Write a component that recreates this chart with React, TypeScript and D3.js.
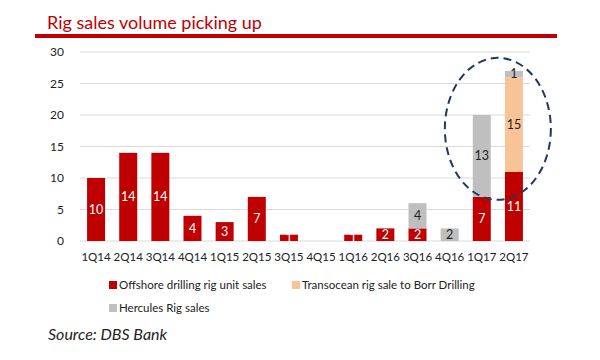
import React, { useEffect, useRef } from "react";
import * as d3 from "d3";

const quarters = ["1Q14", "2Q14", "3Q14", "4Q14", "1Q15", "2Q15", "3Q15", "4Q15", "1Q16", "2Q16", "3Q16", "4Q16", "1Q17", "2Q17"];
const offshore = [10, 14, 14, 4, 3, 7, 1, 0, 1, 2, 2, 0, 7, 11];
const transocean = [0, 0, 0, 0, 0, 0, 0, 0, 0, 0, 0, 0, 0, 15];
const hercules = [0, 0, 0, 0, 0, 0, 0, 0, 0, 0, 4, 2, 13, 1];
const yTicks = [0, 5, 10, 15, 20, 25, 30];

const seriesNames = ["Offshore drilling rig unit sales", "Transocean rig sale to Borr Drilling", "Hercules Rig sales"];
const colors = ["#c00000", "#f8c497", "#bfbfbf"];
const labelColors = ["#ffffff", "#222222", "#222222"];

const font = "Lato, 'Open Sans', sans-serif";

export default function App() {
  const ref = useRef<SVGSVGElement>(null);

  useEffect(() => {
    const width = 600;
    const height = 360;
    const margin = { top: 52, left: 80, bottom: 119, right: 70 };
    const iwidth = width - margin.left - margin.right;
    const iheight = height - margin.top - margin.bottom;

    const svg = d3.select(ref.current);
    svg.selectAll("*").remove();

    // title + rule
    svg.append("text")
      .attr("x", 47)
      .attr("y", 29)
      .attr("fill", "#c00000")
      .style("font-family", font)
      .style("font-size", "18px")
      .text("Rig sales volume picking up");
    svg.append("rect")
      .attr("x", 35).attr("y", 34).attr("width", 522).attr("height", 4)
      .attr("fill", "#c00000");

    const g = svg.append("g").attr("transform", `translate(${margin.left},${margin.top})`);

    const y = d3.scaleLinear().domain([0, 30]).range([iheight, 0]);
    const x = d3.scaleBand().domain(quarters).range([0, iwidth]).paddingInner(0.44).paddingOuter(0.22);

    // grid
    g.selectAll("line.grid")
      .data(yTicks)
      .enter()
      .append("line")
      .attr("x1", 0).attr("x2", iwidth)
      .attr("y1", d => y(d)).attr("y2", d => y(d))
      .attr("stroke", "#d9d9d9")
      .attr("stroke-width", 1);

    g.selectAll("text.ytick")
      .data(yTicks)
      .enter()
      .append("text")
      .attr("x", -16)
      .attr("y", d => y(d))
      .attr("dy", "0.35em")
      .attr("text-anchor", "end")
      .style("font-family", font)
      .style("font-size", "12px")
      .attr("fill", "#222")
      .text(d => d);

    const rows = quarters.map((q, i) => ({ q, offshore: offshore[i], transocean: transocean[i], hercules: hercules[i] }));
    const keys = ["offshore", "transocean", "hercules"];
    const stacked = d3.stack<any>().keys(keys)(rows);

    stacked.forEach((layer, li) => {
      const lg = g.append("g");
      lg.selectAll("rect")
        .data(layer.filter(d => d[1] - d[0] > 0))
        .enter()
        .append("rect")
        .attr("x", d => x(d.data.q)!)
        .attr("width", x.bandwidth())
        .attr("y", d => y(d[1]))
        .attr("height", d => y(d[0]) - y(d[1]))
        .attr("fill", colors[li]);
      lg.selectAll("text")
        .data(layer.filter(d => d[1] - d[0] > 0))
        .enter()
        .append("text")
        .attr("x", d => x(d.data.q)! + x.bandwidth() / 2)
        .attr("y", d => (y(d[0]) + y(d[1])) / 2)
        .attr("dy", "0.35em")
        .attr("text-anchor", "middle")
        .style("font-family", font)
        .style("font-size", "12.5px")
        .attr("fill", labelColors[li])
        .text(d => d[1] - d[0]);
    });

    // x labels
    g.selectAll("text.xtick")
      .data(quarters)
      .enter()
      .append("text")
      .attr("x", d => x(d)! + x.bandwidth() / 2)
      .attr("y", iheight + 16)
      .attr("dy", "0.35em")
      .attr("text-anchor", "middle")
      .style("font-family", font)
      .style("font-size", "11.5px")
      .attr("fill", "#222")
      .text(d => d);

    // dashed ellipse round the last two quarters
    const cx = (x("1Q17")! + x("2Q17")! + x.bandwidth()) / 2;
    g.append("ellipse")
      .attr("cx", cx)
      .attr("cy", y(17.8))
      .attr("rx", 53)
      .attr("ry", 71)
      .attr("fill", "none")
      .attr("stroke", "#1f3864")
      .attr("stroke-width", 2)
      .attr("stroke-dasharray", "8,5");

    // legend
    const legendPos = [[109, 285], [292, 285], [109, 308]];
    seriesNames.forEach((name, i) => {
      const [lx, ly] = legendPos[i];
      svg.append("rect")
        .attr("x", lx).attr("y", ly - 4).attr("width", 8).attr("height", 8)
        .attr("fill", colors[i]);
      svg.append("text")
        .attr("x", lx + 10)
        .attr("y", ly)
        .attr("dy", "0.35em")
        .style("font-family", font)
        .style("font-size", "11.5px")
        .attr("fill", "#222")
        .text(name);
    });

    svg.append("text")
      .attr("x", 48)
      .attr("y", 340)
      .style("font-family", font)
      .style("font-style", "italic")
      .style("font-size", "16px")
      .attr("fill", "#222")
      .text("Source: DBS Bank");
  }, []);

  return (
    <div style={{ position: "absolute", left: 0, top: 0 }}>
      <svg ref={ref} width={600} height={360} style={{ display: "block", background: "#fff" }} />
    </div>
  );
}
